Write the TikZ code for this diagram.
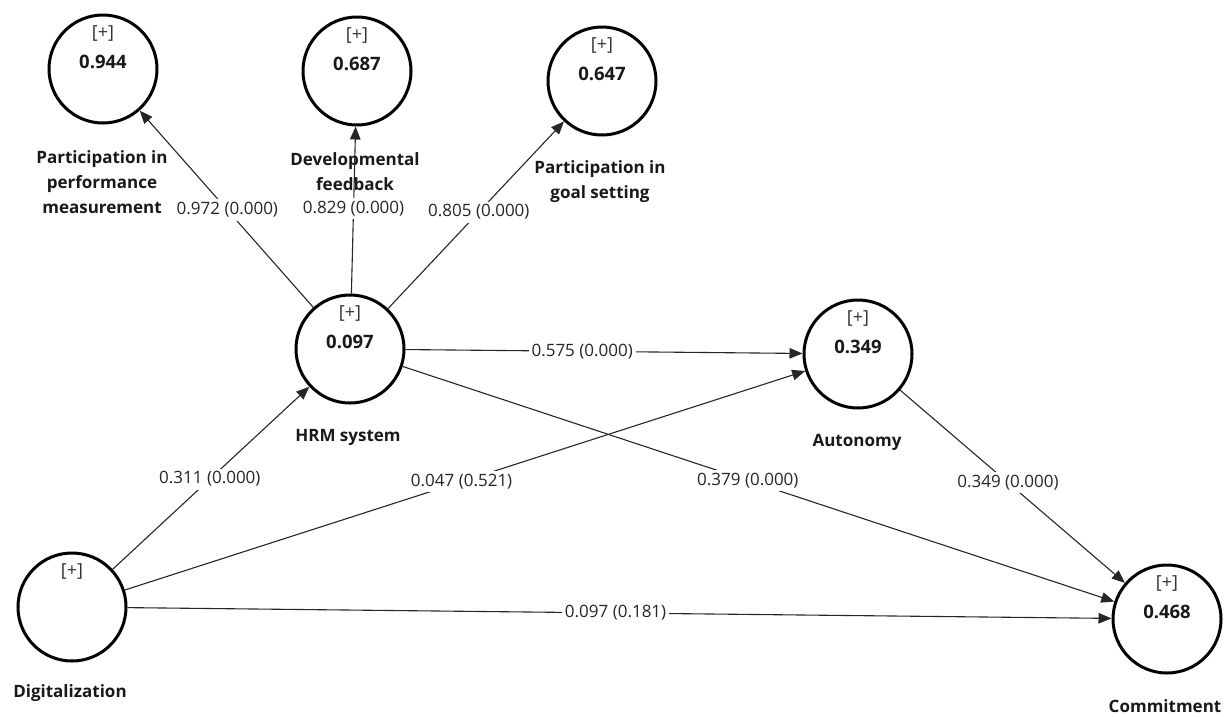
\documentclass[tikz,border=0pt]{standalone}
\usepackage{fontspec}
\setmainfont{Open Sans}
\usetikzlibrary{arrows.meta}
\begin{document}
\begin{tikzpicture}[x=1pt,y=-1pt,
  lv/.style={circle,draw=black,line width=3pt,minimum size=108pt,inner sep=0pt},
  inplus/.style={font=\fontsize{18}{20}\selectfont, text=black!80},
  val/.style={font=\fontsize{18.5}{20}\selectfont\bfseries, text=black!90},
  lvname/.style={font=\fontsize{17}{25}\selectfont\bfseries, align=center, text=black!90},
  pathc/.style={line width=1.1pt, draw=black!85, -{Triangle[length=13pt,width=10.5pt]}},
  coef/.style={fill=white, inner sep=3pt, font=\fontsize{17}{20}\selectfont, text=black!85}
]
\useasboundingbox (0,0) rectangle (1231,716);

% latent variables
\node[lv] (ppm) at (103,69) {};
\node[lv] (df)  at (357,71) {};
\node[lv] (gs)  at (602,81) {};
\node[lv] (hrm) at (350,349) {};
\node[lv] (aut) at (858,354) {};
\node[lv] (dig) at (72,607) {};
\node[lv] (com) at (1167,619) {};

% inner texts
\node[inplus] (ppmp) at ([yshift=36pt]ppm.center) {[+]};
\node[val]    (ppmv) at ([yshift=7pt]ppm.center) {0.944};
\node[inplus] (dfp)  at ([yshift=36pt]df.center) {[+]};
\node[val]    (dfv)  at ([yshift=7pt]df.center) {0.687};
\node[inplus] (gsp)  at ([yshift=36pt]gs.center) {[+]};
\node[val]    (gsv)  at ([yshift=7pt]gs.center) {0.647};
\node[inplus] (hrmp) at ([yshift=36pt]hrm.center) {[+]};
\node[val]    (hrmv) at ([yshift=7pt]hrm.center) {0.097};
\node[inplus] (autp) at ([yshift=36pt]aut.center) {[+]};
\node[val]    (autv) at ([yshift=7pt]aut.center) {0.349};
\node[inplus] (digp) at ([yshift=36pt]dig.center) {[+]};
\node[inplus] (comp) at ([yshift=36pt]com.center) {[+]};
\node[val]    (comv) at ([yshift=7pt]com.center) {0.468};

% names
\node[lvname] (ppmn) at (102,182) {Participation in\\performance\\measurement};
\node[lvname] (dfn)  at (355,172) {Developmental\\feedback};
\node[lvname] (gsn)  at (600,182) {Participation in\\goal setting};
\node[lvname] (hrmn) at (348,437) {HRM system};
\node[lvname] (autn) at (857,442) {Autonomy};
\node[lvname] (dign) at (70,693) {Digitalization};
\node[lvname,anchor=base] (comn) at (1165,712) {Commitment};

% paths
\draw[pathc] (hrm) -- node[coef,pos=0.495] {0.972 (0.000)} (ppm);
\draw[pathc] (hrm) -- node[coef,pos=0.51] {0.829 (0.000)} (df);
\draw[pathc] (hrm) -- node[coef,pos=0.516] {0.805 (0.000)} (gs);
\draw[pathc] (hrm) -- node[coef,pos=0.445] {0.575 (0.000)} (aut);
\draw[pathc] (hrm) -- node[coef,pos=0.485] {0.379 (0.000)} (com);
\draw[pathc] (dig) -- node[coef,pos=0.494] {0.311 (0.000)} (hrm);
\draw[pathc] (dig) -- node[coef,pos=0.495] {0.047 (0.521)} (aut);
\draw[pathc] (dig) -- node[coef,pos=0.496] {0.097 (0.181)} (com);
\draw[pathc] (aut) -- node[coef,pos=0.48] {0.349 (0.000)} (com);
\end{tikzpicture}
\end{document}
